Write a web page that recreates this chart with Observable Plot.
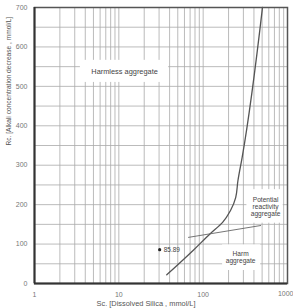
<!DOCTYPE html>
<html><head><meta charset="utf-8">
<script src="https://cdn.jsdelivr.net/npm/d3@7"></script>
<script src="https://cdn.jsdelivr.net/npm/@observablehq/plot@0.6"></script>
<style>body{margin:0;background:#fff;font-family:"Liberation Sans",Arial,sans-serif}</style>
</head><body><div id="chart"></div>
<script>
// Boundary curve (Sc, Rc)
const curveSc = [37, 77, 122, 170, 211, 243, 258, 290, 505];
const curveRc = [22, 85, 127, 155, 185, 218, 260, 320, 700];
// Secondary line
const lineSc = [67, 480];
const lineRc = [117, 147];
// Sample point
const pointSc = [30.5];
const pointRc = [85.89];
const pointLabel = ["85.89"];
// Region labels
const regionText = ["Harmless aggregate", "Potential\nreactivity\naggregate", "Harm\naggregate"];
const regionSize = [7.4, 6.6, 6.6];
const regionSc = [11.7, 550, 278];
const regionRc = [538, 195, 66];
const boxSc1 = [3.5, 330, 170];
const boxSc2 = [39, 890, 480];
const boxRc1 = [510, 153, 33];
const boxRc2 = [566, 238, 98];
const xTicks = [1, 10, 100];
const xLastTick = [1000];
const yTicks = [0, 100, 200, 300, 400, 500, 600, 700];
const xTitle = "Sc. [Dissolved Silica , mmol/L]";
const yTitle = "Rc. [Alkali concentration decrease , mmol/L]";

const gridX = [];
for (const d of [1, 10, 100]) for (let k = 1; k <= 9; k++) gridX.push(d * k);
const gridY = d3.range(0, 701, 50);

const curve = curveSc.map((s, i) => ({s, r: curveRc[i]}));
const line2 = lineSc.map((s, i) => ({s, r: lineRc[i]}));
const pts = pointSc.map((s, i) => ({s, r: pointRc[i], t: pointLabel[i]}));
const regions = regionText.map((t, i) => ({t, s: regionSc[i], r: regionRc[i], x1: boxSc1[i], x2: boxSc2[i], y1: boxRc1[i], y2: boxRc2[i]}));

const chart = Plot.plot({
  width: 293, height: 308,
  marginLeft: 34, marginRight: 6, marginTop: 7, marginBottom: 25,
  style: {fontFamily: "Liberation Sans, Arial, sans-serif", background: "#fff"},
  x: {type: "log", domain: [1, 1000]},
  y: {domain: [0, 700]},
  marks: [
    Plot.ruleX(gridX, {stroke: "#aaa", strokeWidth: 0.8}),
    Plot.ruleY(gridY, {stroke: "#aaa", strokeWidth: 0.8}),
    Plot.rect(regions, {x1: "x1", x2: "x2", y1: "y1", y2: "y2", fill: "#fff"}),
    Plot.text(regions.slice(0, 1), {x: "s", y: "r", text: "t", fontSize: regionSize[0], fill: "#444", lineHeight: 1.1}),
    Plot.text(regions.slice(1), {x: "s", y: "r", text: "t", fontSize: regionSize[1], fill: "#444", lineHeight: 1.1}),
    Plot.line(curve, {x: "s", y: "r", stroke: "#555", strokeWidth: 1.3, curve: "monotone-y"}),
    Plot.line(line2, {x: "s", y: "r", stroke: "#666", strokeWidth: 0.9}),
    Plot.dot(pts, {x: "s", y: "r", r: 1.6, fill: "#222"}),
    Plot.text(pts, {x: "s", y: "r", text: "t", dx: 4, textAnchor: "start", fontSize: 6.5, fill: "#444"}),
    Plot.frame({stroke: "#555", strokeWidth: 1.5}),
    Plot.ruleX([1], {stroke: "#333", strokeWidth: 2}),
    Plot.ruleY([0], {stroke: "#333", strokeWidth: 2}),
    Plot.axisX(xTicks, {tickSize: 0, tickPadding: 9, fontSize: 7, fill: "#777", label: null, tickFormat: d => String(d)}),
    Plot.text(xLastTick, {x: d => d, frameAnchor: "bottom", dy: 10, dx: 6, textAnchor: "end", lineAnchor: "middle", fontSize: 7, fill: "#777", text: d => String(d)}),
    Plot.axisY(yTicks, {tickSize: 0, tickPadding: 7, fontSize: 7, fill: "#777", label: null}),
    Plot.text([xTitle], {x: [21], text: d => d, frameAnchor: "bottom", dy: 20, fontSize: 7.4, fill: "#555", lineAnchor: "middle"}),
    Plot.text([yTitle], {frameAnchor: "left", dx: -26, rotate: -90, fontSize: 6.6, fill: "#555"})
  ]
});
document.getElementById("chart").append(chart);
</script></body></html>
